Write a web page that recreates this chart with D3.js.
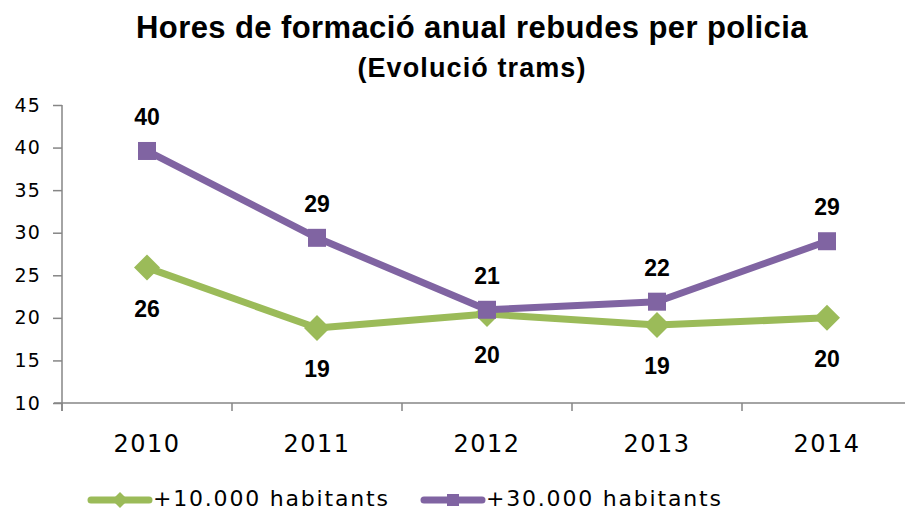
<!DOCTYPE html>
<html><head><meta charset="utf-8">
<script src="https://cdn.jsdelivr.net/npm/d3@7"></script>
<style>body{margin:0;background:#fff}svg{display:block}</style>
</head><body><svg id="c" width="905" height="511"></svg>
<script>
const categories = ["2010","2011","2012","2013","2014"];
const seriesNames = ["+10.000 habitants","+30.000 habitants"];
const values10k = [25.9, 18.8, 20.45, 19.15, 20.0];
const values30k = [39.6, 29.4, 20.95, 21.9, 29.0];
const yTicks = [10,15,20,25,30,35,40,45];
const titleText = "Hores de formació anual rebudes per policia";
const subtitleText = "(Evolució trams)";

const colors = ["#9BBB59","#8064A2"];
const axisColor = "#868686";
const svg = d3.select("#c");

const x = d3.scaleBand().domain(categories).range([62, 912]);
const y = d3.scaleLinear().domain([10,45]).range([403,105]);

// title
svg.append("text").attr("x",472).attr("y",38).attr("text-anchor","middle")
  .attr("font-family","Liberation Sans, Arial, sans-serif").attr("font-weight","bold")
  .attr("font-size",31).attr("letter-spacing","0.4px").attr("fill","#000").text(titleText);
svg.append("text").attr("x",472).attr("y",77).attr("text-anchor","middle")
  .attr("font-family","Liberation Sans, Arial, sans-serif").attr("font-weight","bold")
  .attr("font-size",27).attr("letter-spacing","1.1px").attr("fill","#000").text(subtitleText);

// y axis
const yAxis = d3.axisLeft(y).tickValues(yTicks).tickSize(9).tickPadding(12);
const gy = svg.append("g").attr("transform","translate(62,0)").call(yAxis);
gy.select(".domain").remove();
gy.selectAll(".tick line").attr("stroke",axisColor).attr("stroke-width",1.5);
gy.selectAll(".tick text").attr("font-family","DejaVu Sans, sans-serif").attr("font-size",19)
  .attr("letter-spacing","1.2px").attr("fill","#000");
svg.append("line").attr("x1",62).attr("x2",62).attr("y1",y(45)).attr("y2",y(10)+8)
  .attr("stroke",axisColor).attr("stroke-width",1.5);

// x axis
const xAxis = d3.axisBottom(x).tickSize(0).tickPadding(32);
const gx = svg.append("g").attr("transform",`translate(0,${y(10)})`).call(xAxis);
gx.select(".domain").remove();
gx.selectAll(".tick text").attr("font-family","DejaVu Sans, sans-serif").attr("font-size",24)
  .attr("letter-spacing","1.5px").attr("fill","#000");
svg.append("line").attr("x1",54).attr("x2",912).attr("y1",y(10)).attr("y2",y(10))
  .attr("stroke",axisColor).attr("stroke-width",1.5);
categories.forEach(c=>{
  svg.append("line").attr("x1",x(c)).attr("x2",x(c)).attr("y1",y(10)).attr("y2",y(10)+8)
    .attr("stroke",axisColor).attr("stroke-width",1.5);
});

const cx = c => x(c) + x.bandwidth()/2;
const line = d3.line().x((d,i)=>cx(categories[i])).y(d=>y(d));

function diamond(g, px, py, r, col){
  g.append("path").attr("d",`M${px},${py-r}L${px+r},${py}L${px},${py+r}L${px-r},${py}Z`).attr("fill",col);
}
function square(g, px, py, s, col){
  g.append("rect").attr("x",px-s/2).attr("y",py-s/2).attr("width",s).attr("height",s).attr("fill",col);
}

// green series
svg.append("path").datum(values10k).attr("d",line).attr("fill","none")
  .attr("stroke",colors[0]).attr("stroke-width",7).attr("stroke-linejoin","round");
values10k.forEach((v,i)=>diamond(svg, cx(categories[i]), y(v), 13, colors[0]));
// purple series
svg.append("path").datum(values30k).attr("d",line).attr("fill","none")
  .attr("stroke",colors[1]).attr("stroke-width",7).attr("stroke-linejoin","round");
values30k.forEach((v,i)=>square(svg, cx(categories[i]), y(v), 18, colors[1]));

// data labels
const lblFont = "Liberation Sans, Arial, sans-serif";
values30k.forEach((v,i)=>{
  svg.append("text").attr("x",cx(categories[i])).attr("y",y(v)-26).attr("text-anchor","middle")
    .attr("font-family",lblFont).attr("font-weight","bold").attr("font-size",23).text(Math.round(v));
});
values10k.forEach((v,i)=>{
  svg.append("text").attr("x",cx(categories[i])).attr("y",y(v)+49).attr("text-anchor","middle")
    .attr("font-family",lblFont).attr("font-weight","bold").attr("font-size",23).text(Math.round(v));
});

// legend
const legend = [{x1:91,x2:149,tx:153},{x1:424,x2:482,tx:486}];
legend.forEach((L,i)=>{
  svg.append("line").attr("x1",L.x1).attr("x2",L.x2).attr("y1",500).attr("y2",500)
    .attr("stroke",colors[i]).attr("stroke-width",7).attr("stroke-linecap","round");
  const mx=(L.x1+L.x2)/2;
  if(i===0) diamond(svg,mx,500,8,colors[0]); else square(svg,mx,500,12,colors[1]);
  svg.append("text").attr("x",L.tx).attr("y",506).attr("font-family","DejaVu Sans, sans-serif")
    .attr("font-size",22).attr("letter-spacing","1.8px").attr("fill","#000").text(seriesNames[i]);
});
</script></body></html>
